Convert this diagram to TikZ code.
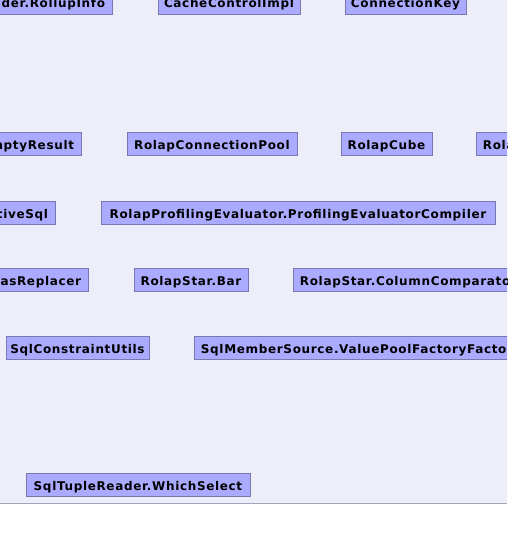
\documentclass[tikz,border=0pt]{standalone}
\usepackage{fontspec}
\setmainfont{DejaVu Sans}
\newfontfamily\boxfont{DejaVu Sans Bold}[LetterSpace=5.5]
\definecolor{bgcol}{RGB}{238,238,250}
\definecolor{boxfill}{RGB}{170,170,255}
\definecolor{boxline}{RGB}{120,120,175}
\definecolor{rulecol}{RGB}{165,165,185}
\newcommand{\fixw}[2]{\makebox[#1pt][c]{#2}}
\tikzset{
  cls/.style={draw=boxline, fill=boxfill, line width=0.9pt,
    font=\boxfont\fontsize{12}{14}\selectfont, text=black,
    inner xsep=7pt, inner ysep=0pt, minimum height=23.5pt,
    text height=12pt, text depth=1pt},
}
\begin{document}
\begin{tikzpicture}[x=1pt,y=-1pt]
\useasboundingbox (0,0) rectangle (507,539);
\fill[bgcol] (0,0) rectangle (507,503);
\draw[rulecol, line width=1pt] (0,503) -- (507,503);
\begin{scope}
\clip (0,0) rectangle (507,539);
% row 1
\node[cls, anchor=north east] (n1) at (112.5,-10) {BatchLoader.RollupInfo};
\node[cls, anchor=north west] (n2) at (157.5,-10) {\fixw{128}{CacheControlImpl}};
\node[cls, anchor=north west] (n3) at (344.5,-10) {\fixw{107}{ConnectionKey}};
% row 2
\node[cls, anchor=north east] (n4) at (81.5,131.5) {RolapConnection.NonEmptyResult};
\node[cls, anchor=north west] (n5) at (126.5,131.5) {\fixw{156}{RolapConnectionPool}};
\node[cls, anchor=north west] (n6) at (340.5,131.5) {\fixw{77}{RolapCube}};
\node[cls, anchor=north west] (n7) at (475.5,131.5) {RolapCubeHierarchy};
% row 3
\node[cls, anchor=north east] (n8) at (55.5,200.5) {RolapNativeSql};
\node[cls, anchor=north west] (n9) at (100.5,200.5) {\fixw{380}{RolapProfilingEvaluator.ProfilingEvaluatorCompiler}};
% row 4
\node[cls, anchor=north east] (n10) at (88.5,267.5) {RolapStar.AliasReplacer};
\node[cls, anchor=north west] (n11) at (133.5,267.5) {\fixw{100}{RolapStar.Bar}};
\node[cls, anchor=north west] (n12) at (292.5,267.5) {RolapStar.ColumnComparator};
% row 5
\node[cls, anchor=north west] (n13) at (5.5,335.5) {\fixw{129}{SqlConstraintUtils}};
\node[cls, anchor=north west] (n14) at (193.5,335.5) {SqlMemberSource.ValuePoolFactoryFactory};
% row 6
\node[cls, anchor=north west] (n15) at (25.5,472.5) {\fixw{210}{SqlTupleReader.WhichSelect}};
\end{scope}
\end{tikzpicture}
\end{document}
